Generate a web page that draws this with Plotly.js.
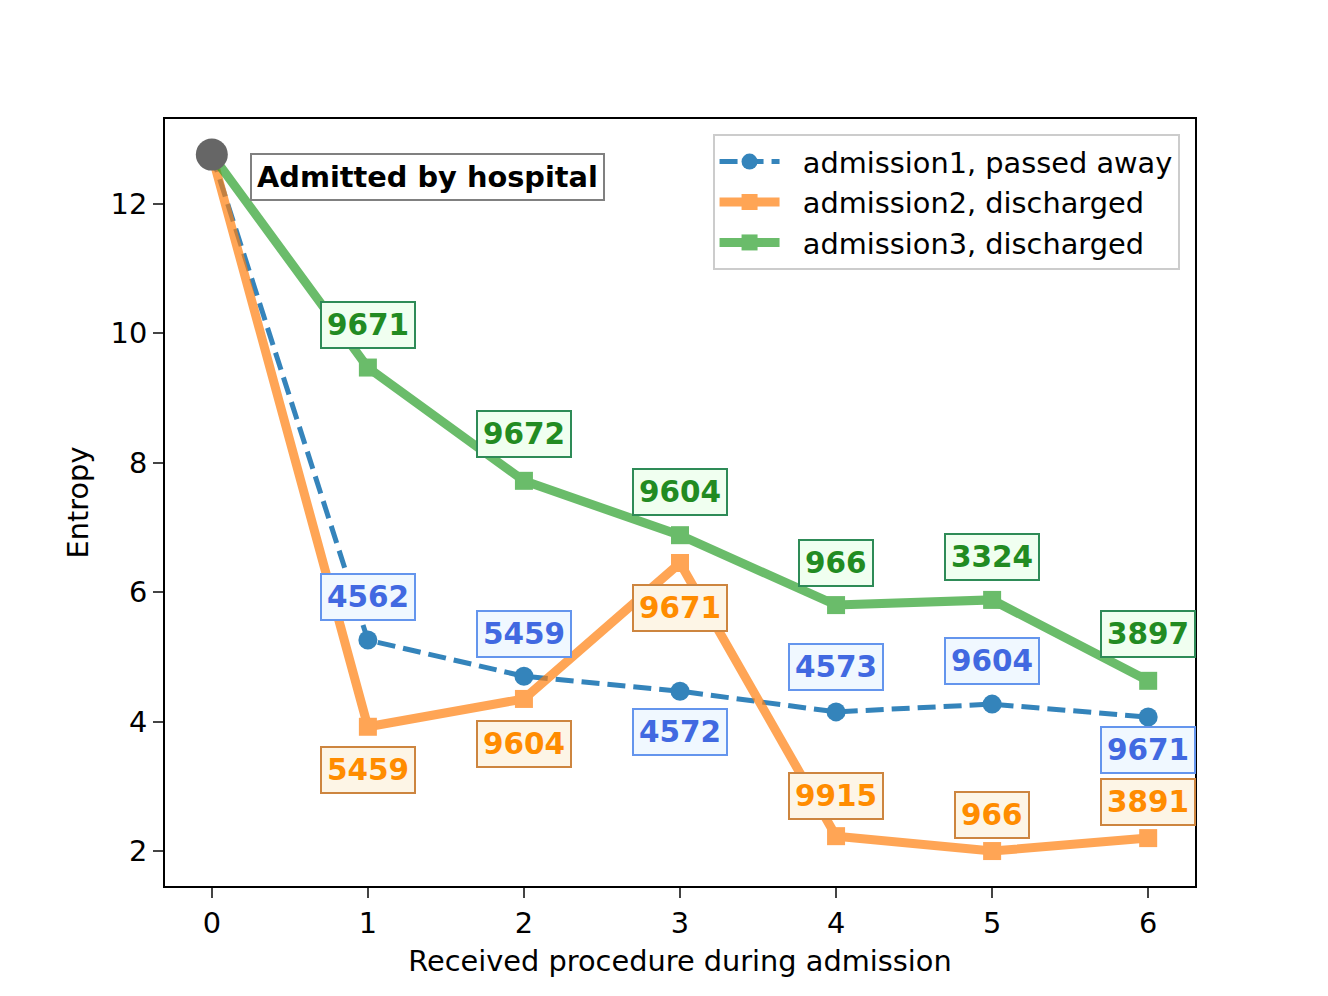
<!DOCTYPE html>
<html>
<head>
<meta charset="utf-8">
<script src="https://cdn.plot.ly/plotly-3.0.1.min.js"></script>
<style>html,body{margin:0;padding:0;background:#fff;}#chart{width:1328px;height:996px;}</style>
</head>
<body>
<div id="chart"></div>
<script>
// ---- data ----
const steps = [0, 1, 2, 3, 4, 5, 6];
const startEntropy = 12.76;
const adm1 = [12.76, 5.26, 4.70, 4.47, 4.15, 4.27, 4.07];
const adm2 = [12.76, 3.92, 4.35, 6.45, 2.23, 2.00, 2.20];
const adm3 = [12.76, 9.47, 7.72, 6.88, 5.80, 5.88, 4.63];
const labels1 = ['4562', '5459', '4572', '4573', '9604', '9671'];
const labels2 = ['5459', '9604', '9671', '9915', '966', '3891'];
const labels3 = ['9671', '9672', '9604', '966', '3324', '3897'];
const seriesNames = ['admission1, passed away', 'admission2, discharged', 'admission3, discharged'];
const startLabel = 'Admitted by hospital';
const xTitle = 'Received procedure during admission';
const yTitle = 'Entropy';

// ---- styles ----
const shifts1 = [43, 42, -41, 45, 43, -33];
const shifts2 = [-43, -45, -45, 40, 36, 36];
const shifts3 = [43, 47, 43, 42, 43, 47];
const FONT = 'DejaVu Sans, sans-serif';
const FS = 28.8;

const traces = [
  {x: steps, y: adm1, name: '&nbsp;&nbsp;' + seriesNames[0], mode: 'lines+markers', opacity: 0.9,
   line: {color: '#1f77b4', width: 5, dash: '18px,8px'},
   marker: {symbol: 'circle', size: 19, color: '#1f77b4'}},
  {x: steps, y: adm2, name: '&nbsp;&nbsp;' + seriesNames[1], mode: 'lines+markers', opacity: 0.7,
   line: {color: '#ff7f0e', width: 9},
   marker: {symbol: 'square', size: 18, color: '#ff7f0e'}},
  {x: steps, y: adm3, name: '&nbsp;&nbsp;' + seriesNames[2], mode: 'lines+markers', opacity: 0.7,
   line: {color: '#2ca02c', width: 9},
   marker: {symbol: 'square', size: 18, color: '#2ca02c'}},
  {x: [steps[0]], y: [startEntropy], mode: 'markers', showlegend: false,
   marker: {symbol: 'circle', size: 32, color: '#666666'}}
];

function labelAnns(vals, labels, shifts, txt, bg, border) {
  return labels.map((t, i) => ({
    x: steps[i + 1], y: vals[i + 1], text: '<b>' + t + '</b>', showarrow: false,
    yshift: shifts[i], font: {family: FONT, size: 29.5, color: txt},
    bgcolor: bg, bordercolor: border, borderwidth: 2, borderpad: 5
  }));
}

const annotations = [
  ...labelAnns(adm1, labels1, shifts1, '#4169e1', 'rgba(240,248,255,1)', '#6495ed'),
  ...labelAnns(adm2, labels2, shifts2, '#ff8c00', 'rgba(253,245,230,1)', '#cd853f'),
  ...labelAnns(adm3, labels3, shifts3, '#228b22', 'rgba(240,255,240,1)', '#2e8b57'),
  {x: 0.245, y: startEntropy, xanchor: 'left', yanchor: 'middle', yshift: -22,
   text: '<b>' + startLabel + '</b>', showarrow: false,
   font: {family: FONT, size: 28.8, color: '#000'},
   bgcolor: '#ffffff', bordercolor: '#808080', borderwidth: 2, borderpad: 5}
];

const layout = {
  width: 1328, height: 996,
  margin: {l: 165, r: 133, t: 119, b: 110},
  paper_bgcolor: '#fff', plot_bgcolor: '#fff',
  font: {family: FONT, size: FS, color: '#000'},
  xaxis: {range: [-0.3, 6.3], tickvals: steps, ticks: 'outside', ticklen: 10, tickwidth: 2,
          showline: true, mirror: true, linecolor: '#000', linewidth: 2, showgrid: false,
          zeroline: false, tickfont: {size: FS},
          title: {text: xTitle, font: {size: FS}, standoff: 12}},
  yaxis: {range: [1.46, 13.31], tickvals: [2, 4, 6, 8, 10, 12], ticks: 'outside', ticklen: 10,
          tickwidth: 2, showline: true, mirror: true, linecolor: '#000', linewidth: 2,
          showgrid: false, zeroline: false, tickfont: {size: FS},
          title: {text: yTitle, font: {size: FS}, standoff: 14}},
  legend: {x: 0.985, y: 0.98, xanchor: 'right', yanchor: 'top', bgcolor: 'rgba(255,255,255,0.8)',
           bordercolor: '#cccccc', borderwidth: 2, font: {size: FS}, itemwidth: 60},
  annotations: annotations,
  showlegend: true
};

Plotly.newPlot('chart', traces, layout, {staticPlot: true, displayModeBar: false});
</script>
</body>
</html>
